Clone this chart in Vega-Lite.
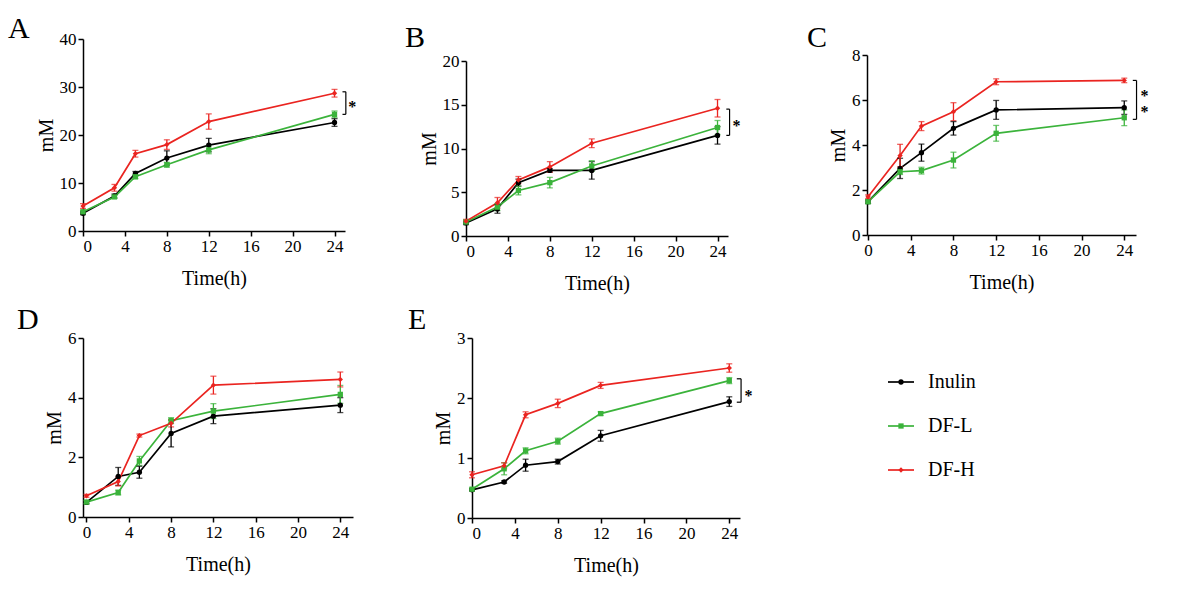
{
  "$schema": "https://vega.github.io/schema/vega-lite/v6.json",
  "background": "white",
  "padding": {"left": 8, "top": 14, "right": 5, "bottom": 5},
  "config": {
    "font": "Liberation Serif",
    "view": {"stroke": null},
    "title": {"font": "Liberation Serif", "fontSize": 30, "fontWeight": "normal", "anchor": "start", "frame": "group", "color": "black", "offset": 0},
    "axis": {
      "domainColor": "black", "domainWidth": 1.5, "tickColor": "black", "tickWidth": 1.5, "tickSize": 5,
      "labelFont": "Liberation Serif", "labelFontSize": 17, "labelColor": "black", "labelPadding": 2,
      "titleFont": "Liberation Serif", "titleFontSize": 20, "titleFontWeight": "normal", "titleColor": "black",
      "grid": false
    },
    "axisX": {"titlePadding": 14},
    "axisY": {"titlePadding": 3},
    "text": {"font": "Liberation Serif"}
  },
  "datasets": {
    "pts": [
      {"p": "A", "g": "Inulin", "t": 0, "v": 3.7, "e": 0.3},
      {"p": "A", "g": "Inulin", "t": 3, "v": 7.3, "e": 0.4},
      {"p": "A", "g": "Inulin", "t": 5, "v": 12.0, "e": 0.4},
      {"p": "A", "g": "Inulin", "t": 8, "v": 15.2, "e": 1.5},
      {"p": "A", "g": "Inulin", "t": 12, "v": 17.9, "e": 1.4},
      {"p": "A", "g": "Inulin", "t": 24, "v": 22.6, "e": 0.8},
      {"p": "A", "g": "DF-L", "t": 0, "v": 4.0, "e": 0.3},
      {"p": "A", "g": "DF-L", "t": 3, "v": 7.1, "e": 0.3},
      {"p": "A", "g": "DF-L", "t": 5, "v": 11.3, "e": 0.4},
      {"p": "A", "g": "DF-L", "t": 8, "v": 13.8, "e": 0.5},
      {"p": "A", "g": "DF-L", "t": 12, "v": 16.9, "e": 0.8},
      {"p": "A", "g": "DF-L", "t": 24, "v": 24.3, "e": 0.7},
      {"p": "A", "g": "DF-H", "t": 0, "v": 5.2, "e": 0.5},
      {"p": "A", "g": "DF-H", "t": 3, "v": 9.0, "e": 0.7},
      {"p": "A", "g": "DF-H", "t": 5, "v": 16.1, "e": 0.7},
      {"p": "A", "g": "DF-H", "t": 8, "v": 18.0, "e": 1.0},
      {"p": "A", "g": "DF-H", "t": 12, "v": 22.8, "e": 1.6},
      {"p": "A", "g": "DF-H", "t": 24, "v": 28.7, "e": 0.8},
      {"p": "A", "lo": 24.3, "hi": 29.0},
      {"p": "A", "sy": 26.6, "s": "*"},

      {"p": "B", "g": "Inulin", "t": 0, "v": 1.5, "e": 0.2},
      {"p": "B", "g": "Inulin", "t": 3, "v": 3.1, "e": 0.5},
      {"p": "B", "g": "Inulin", "t": 5, "v": 6.1, "e": 0.4},
      {"p": "B", "g": "Inulin", "t": 8, "v": 7.5, "e": 0.2},
      {"p": "B", "g": "Inulin", "t": 12, "v": 7.5, "e": 1.0},
      {"p": "B", "g": "Inulin", "t": 24, "v": 11.5, "e": 1.0},
      {"p": "B", "g": "DF-L", "t": 0, "v": 1.6, "e": 0.2},
      {"p": "B", "g": "DF-L", "t": 3, "v": 3.3, "e": 0.4},
      {"p": "B", "g": "DF-L", "t": 5, "v": 5.2, "e": 0.5},
      {"p": "B", "g": "DF-L", "t": 8, "v": 6.1, "e": 0.6},
      {"p": "B", "g": "DF-L", "t": 12, "v": 8.0, "e": 0.6},
      {"p": "B", "g": "DF-L", "t": 24, "v": 12.4, "e": 0.8},
      {"p": "B", "g": "DF-H", "t": 0, "v": 1.7, "e": 0.2},
      {"p": "B", "g": "DF-H", "t": 3, "v": 3.8, "e": 0.6},
      {"p": "B", "g": "DF-H", "t": 5, "v": 6.4, "e": 0.4},
      {"p": "B", "g": "DF-H", "t": 8, "v": 7.9, "e": 0.6},
      {"p": "B", "g": "DF-H", "t": 12, "v": 10.6, "e": 0.5},
      {"p": "B", "g": "DF-H", "t": 24, "v": 14.6, "e": 1.0},
      {"p": "B", "lo": 11.5, "hi": 14.5},
      {"p": "B", "sy": 13.0, "s": "*"},

      {"p": "C", "g": "Inulin", "t": 0, "v": 1.48, "e": 0.08},
      {"p": "C", "g": "Inulin", "t": 3, "v": 2.96, "e": 0.45},
      {"p": "C", "g": "Inulin", "t": 5, "v": 3.66, "e": 0.38},
      {"p": "C", "g": "Inulin", "t": 8, "v": 4.74, "e": 0.3},
      {"p": "C", "g": "Inulin", "t": 12, "v": 5.56, "e": 0.42},
      {"p": "C", "g": "Inulin", "t": 24, "v": 5.66, "e": 0.3},
      {"p": "C", "g": "DF-L", "t": 0, "v": 1.48, "e": 0.08},
      {"p": "C", "g": "DF-L", "t": 3, "v": 2.81, "e": 0.12},
      {"p": "C", "g": "DF-L", "t": 5, "v": 2.86, "e": 0.15},
      {"p": "C", "g": "DF-L", "t": 8, "v": 3.33, "e": 0.35},
      {"p": "C", "g": "DF-L", "t": 12, "v": 4.52, "e": 0.35},
      {"p": "C", "g": "DF-L", "t": 24, "v": 5.21, "e": 0.35},
      {"p": "C", "g": "DF-H", "t": 0, "v": 1.7, "e": 0.08},
      {"p": "C", "g": "DF-H", "t": 3, "v": 3.53, "e": 0.5},
      {"p": "C", "g": "DF-H", "t": 5, "v": 4.84, "e": 0.2},
      {"p": "C", "g": "DF-H", "t": 8, "v": 5.48, "e": 0.4},
      {"p": "C", "g": "DF-H", "t": 12, "v": 6.81, "e": 0.13},
      {"p": "C", "g": "DF-H", "t": 24, "v": 6.87, "e": 0.1},
      {"p": "C", "lo": 5.14, "hi": 6.87},
      {"p": "C", "sy": 6.36, "s": "*"},
      {"p": "C", "sy": 5.64, "s": "*"},

      {"p": "D", "g": "Inulin", "t": 0, "v": 0.49, "e": 0.05},
      {"p": "D", "g": "Inulin", "t": 3, "v": 1.36, "e": 0.3},
      {"p": "D", "g": "Inulin", "t": 5, "v": 1.5, "e": 0.2},
      {"p": "D", "g": "Inulin", "t": 8, "v": 2.8, "e": 0.45},
      {"p": "D", "g": "Inulin", "t": 12, "v": 3.38, "e": 0.25},
      {"p": "D", "g": "Inulin", "t": 24, "v": 3.75, "e": 0.25},
      {"p": "D", "g": "DF-L", "t": 0, "v": 0.5, "e": 0.05},
      {"p": "D", "g": "DF-L", "t": 3, "v": 0.82, "e": 0.08},
      {"p": "D", "g": "DF-L", "t": 5, "v": 1.88, "e": 0.15},
      {"p": "D", "g": "DF-L", "t": 8, "v": 3.23, "e": 0.1},
      {"p": "D", "g": "DF-L", "t": 12, "v": 3.55, "e": 0.25},
      {"p": "D", "g": "DF-L", "t": 24, "v": 4.11, "e": 0.3},
      {"p": "D", "g": "DF-H", "t": 0, "v": 0.71, "e": 0.05},
      {"p": "D", "g": "DF-H", "t": 3, "v": 1.19, "e": 0.15},
      {"p": "D", "g": "DF-H", "t": 5, "v": 2.73, "e": 0.05},
      {"p": "D", "g": "DF-H", "t": 8, "v": 3.14, "e": 0.12},
      {"p": "D", "g": "DF-H", "t": 12, "v": 4.42, "e": 0.3},
      {"p": "D", "g": "DF-H", "t": 24, "v": 4.61, "e": 0.25},

      {"p": "E", "g": "Inulin", "t": 0, "v": 0.47, "e": 0.02},
      {"p": "E", "g": "Inulin", "t": 3, "v": 0.6, "e": 0.02},
      {"p": "E", "g": "Inulin", "t": 5, "v": 0.88, "e": 0.1},
      {"p": "E", "g": "Inulin", "t": 8, "v": 0.94, "e": 0.04},
      {"p": "E", "g": "Inulin", "t": 12, "v": 1.37, "e": 0.09},
      {"p": "E", "g": "Inulin", "t": 24, "v": 1.94, "e": 0.08},
      {"p": "E", "g": "DF-L", "t": 0, "v": 0.48, "e": 0.02},
      {"p": "E", "g": "DF-L", "t": 3, "v": 0.82, "e": 0.1},
      {"p": "E", "g": "DF-L", "t": 5, "v": 1.12, "e": 0.05},
      {"p": "E", "g": "DF-L", "t": 8, "v": 1.28, "e": 0.05},
      {"p": "E", "g": "DF-L", "t": 12, "v": 1.74, "e": 0.03},
      {"p": "E", "g": "DF-L", "t": 24, "v": 2.29, "e": 0.05},
      {"p": "E", "g": "DF-H", "t": 0, "v": 0.72, "e": 0.05},
      {"p": "E", "g": "DF-H", "t": 3, "v": 0.87, "e": 0.05},
      {"p": "E", "g": "DF-H", "t": 5, "v": 1.72, "e": 0.05},
      {"p": "E", "g": "DF-H", "t": 8, "v": 1.91, "e": 0.07},
      {"p": "E", "g": "DF-H", "t": 12, "v": 2.21, "e": 0.05},
      {"p": "E", "g": "DF-H", "t": 24, "v": 2.5, "e": 0.07},
      {"p": "E", "lo": 1.93, "hi": 2.32},
      {"p": "E", "sy": 2.1, "s": "*"}
    ],
    "leg": [
      {"g": "Inulin"},
      {"g": "DF-L"},
      {"g": "DF-H"}
    ]
  },
  "vconcat": [
    {
      "hconcat": [
        {
          "title": {"text": "A", "dx": -75, "dy": 18},
          "width": 262,
          "height": 192,
          "data": {"name": "pts"},
          "transform": [{"filter": "datum.p === 'A'"}],
          "layer": [
            {"transform": [{"filter": "datum.v != null"}], "mark": {"type": "line", "strokeWidth": 1.7},
             "encoding": {
               "x": {"field": "t", "type": "quantitative", "title": "Time(h)", "scale": {"domain": [0, 25], "nice": false}, "axis": {"values": [0, 4, 8, 12, 16, 20, 24], "format": "d"}},
               "y": {"field": "v", "type": "quantitative", "title": "mM", "scale": {"domain": [0, 40], "nice": false}, "axis": {"values": [0, 10, 20, 30, 40], "format": "d"}},
               "color": {"field": "g", "type": "nominal", "legend": null, "scale": {"domain": ["Inulin", "DF-L", "DF-H"], "range": ["#000000", "#3bb33b", "#ea2420"]}}}},
            {"transform": [{"filter": "datum.v != null"}], "mark": {"type": "errorbar", "ticks": {"size": 6, "thickness": 1.3}, "rule": {"strokeWidth": 1.3}},
             "encoding": {"x": {"field": "t", "type": "quantitative", "title": "Time(h)"}, "y": {"field": "v", "type": "quantitative", "title": "mM"}, "yError": {"field": "e"},
               "color": {"field": "g", "type": "nominal", "legend": null, "scale": {"domain": ["Inulin", "DF-L", "DF-H"], "range": ["#000000", "#3bb33b", "#ea2420"]}}}},
            {"transform": [{"filter": "datum.v != null"}], "mark": {"type": "point", "filled": true, "size": 28, "opacity": 1},
             "encoding": {"x": {"field": "t", "type": "quantitative", "title": "Time(h)"}, "y": {"field": "v", "type": "quantitative", "title": "mM"},
               "color": {"field": "g", "type": "nominal", "legend": null, "scale": {"domain": ["Inulin", "DF-L", "DF-H"], "range": ["#000000", "#3bb33b", "#ea2420"]}},
               "shape": {"field": "g", "type": "nominal", "legend": null, "scale": {"domain": ["Inulin", "DF-L", "DF-H"], "range": ["circle", "square", "diamond"]}}}},
            {"transform": [{"filter": "datum.lo != null"}], "mark": {"type": "rule", "color": "black", "strokeWidth": 1.2, "clip": false},
             "encoding": {"x": {"datum": 25.08}, "y": {"field": "lo", "type": "quantitative", "title": "mM"}, "y2": {"field": "hi"}}},
            {"transform": [{"filter": "datum.lo != null"}], "mark": {"type": "rule", "color": "black", "strokeWidth": 1.2, "clip": false},
             "encoding": {"x": {"datum": 24.76}, "x2": {"datum": 25.08}, "y": {"field": "lo", "type": "quantitative", "title": "mM"}}},
            {"transform": [{"filter": "datum.lo != null"}], "mark": {"type": "rule", "color": "black", "strokeWidth": 1.2, "clip": false},
             "encoding": {"x": {"datum": 24.76}, "x2": {"datum": 25.08}, "y": {"field": "hi", "type": "quantitative", "title": "mM"}}},
            {"transform": [{"filter": "datum.s != null"}], "mark": {"type": "text", "fontSize": 16, "fontWeight": "bold", "color": "black", "baseline": "middle", "dy": 4, "clip": false},
             "encoding": {"x": {"datum": 25.7}, "y": {"field": "sy", "type": "quantitative", "title": "mM"}, "text": {"field": "s"}}}
          ]
        },
        {
          "hconcat": [
            {
              "title": {"text": "B", "dx": -61, "dy": 18},
              "width": 262,
              "height": 197,
              "data": {"name": "pts"},
              "transform": [{"filter": "datum.p === 'B'"}],
              "layer": [
                {"transform": [{"filter": "datum.v != null"}], "mark": {"type": "line", "strokeWidth": 1.7},
                 "encoding": {
                   "x": {"field": "t", "type": "quantitative", "title": "Time(h)", "scale": {"domain": [0, 25], "nice": false}, "axis": {"values": [0, 4, 8, 12, 16, 20, 24], "format": "d"}},
                   "y": {"field": "v", "type": "quantitative", "title": "mM", "scale": {"domain": [0, 20], "nice": false, "rangeMax": 22}, "axis": {"values": [0, 5, 10, 15, 20], "format": "d"}},
                   "color": {"field": "g", "type": "nominal", "legend": null, "scale": {"domain": ["Inulin", "DF-L", "DF-H"], "range": ["#000000", "#3bb33b", "#ea2420"]}}}},
                {"transform": [{"filter": "datum.v != null"}], "mark": {"type": "errorbar", "ticks": {"size": 6, "thickness": 1.3}, "rule": {"strokeWidth": 1.3}},
                 "encoding": {"x": {"field": "t", "type": "quantitative", "title": "Time(h)"}, "y": {"field": "v", "type": "quantitative", "title": "mM"}, "yError": {"field": "e"},
                   "color": {"field": "g", "type": "nominal", "legend": null, "scale": {"domain": ["Inulin", "DF-L", "DF-H"], "range": ["#000000", "#3bb33b", "#ea2420"]}}}},
                {"transform": [{"filter": "datum.v != null"}], "mark": {"type": "point", "filled": true, "size": 28, "opacity": 1},
                 "encoding": {"x": {"field": "t", "type": "quantitative", "title": "Time(h)"}, "y": {"field": "v", "type": "quantitative", "title": "mM"},
                   "color": {"field": "g", "type": "nominal", "legend": null, "scale": {"domain": ["Inulin", "DF-L", "DF-H"], "range": ["#000000", "#3bb33b", "#ea2420"]}},
                   "shape": {"field": "g", "type": "nominal", "legend": null, "scale": {"domain": ["Inulin", "DF-L", "DF-H"], "range": ["circle", "square", "diamond"]}}}},
                {"transform": [{"filter": "datum.lo != null"}], "mark": {"type": "rule", "color": "black", "strokeWidth": 1.2, "clip": false},
                 "encoding": {"x": {"datum": 25.15}, "y": {"field": "lo", "type": "quantitative", "title": "mM"}, "y2": {"field": "hi"}}},
                {"transform": [{"filter": "datum.lo != null"}], "mark": {"type": "rule", "color": "black", "strokeWidth": 1.2, "clip": false},
                 "encoding": {"x": {"datum": 24.84}, "x2": {"datum": 25.15}, "y": {"field": "lo", "type": "quantitative", "title": "mM"}}},
                {"transform": [{"filter": "datum.lo != null"}], "mark": {"type": "rule", "color": "black", "strokeWidth": 1.2, "clip": false},
                 "encoding": {"x": {"datum": 24.84}, "x2": {"datum": 25.15}, "y": {"field": "hi", "type": "quantitative", "title": "mM"}}},
                {"transform": [{"filter": "datum.s != null"}], "mark": {"type": "text", "fontSize": 16, "fontWeight": "bold", "color": "black", "baseline": "middle", "dy": 4, "clip": false},
                 "encoding": {"x": {"datum": 25.8}, "y": {"field": "sy", "type": "quantitative", "title": "mM"}, "text": {"field": "s"}}}
              ]
            },
            {
              "title": {"text": "C", "dx": -60, "dy": 18},
              "width": 269,
              "height": 196,
              "data": {"name": "pts"},
              "transform": [{"filter": "datum.p === 'C'"}],
              "layer": [
                {"transform": [{"filter": "datum.v != null"}], "mark": {"type": "line", "strokeWidth": 1.7},
                 "encoding": {
                   "x": {"field": "t", "type": "quantitative", "title": "Time(h)", "scale": {"domain": [-0.1, 25.1], "nice": false}, "axis": {"values": [0, 4, 8, 12, 16, 20, 24], "format": "d"}},
                   "y": {"field": "v", "type": "quantitative", "title": "mM", "scale": {"domain": [0, 8], "nice": false, "rangeMax": 16}, "axis": {"values": [0, 2, 4, 6, 8], "format": "d"}},
                   "color": {"field": "g", "type": "nominal", "legend": null, "scale": {"domain": ["Inulin", "DF-L", "DF-H"], "range": ["#000000", "#3bb33b", "#ea2420"]}}}},
                {"transform": [{"filter": "datum.v != null"}], "mark": {"type": "errorbar", "ticks": {"size": 6, "thickness": 1.3}, "rule": {"strokeWidth": 1.3}},
                 "encoding": {"x": {"field": "t", "type": "quantitative", "title": "Time(h)"}, "y": {"field": "v", "type": "quantitative", "title": "mM"}, "yError": {"field": "e"},
                   "color": {"field": "g", "type": "nominal", "legend": null, "scale": {"domain": ["Inulin", "DF-L", "DF-H"], "range": ["#000000", "#3bb33b", "#ea2420"]}}}},
                {"transform": [{"filter": "datum.v != null"}], "mark": {"type": "point", "filled": true, "size": 28, "opacity": 1},
                 "encoding": {"x": {"field": "t", "type": "quantitative", "title": "Time(h)"}, "y": {"field": "v", "type": "quantitative", "title": "mM"},
                   "color": {"field": "g", "type": "nominal", "legend": null, "scale": {"domain": ["Inulin", "DF-L", "DF-H"], "range": ["#000000", "#3bb33b", "#ea2420"]}},
                   "shape": {"field": "g", "type": "nominal", "legend": null, "scale": {"domain": ["Inulin", "DF-L", "DF-H"], "range": ["circle", "square", "diamond"]}}}},
                {"transform": [{"filter": "datum.lo != null"}], "mark": {"type": "rule", "color": "black", "strokeWidth": 1.2, "clip": false},
                 "encoding": {"x": {"datum": 25.15}, "y": {"field": "lo", "type": "quantitative", "title": "mM"}, "y2": {"field": "hi"}}},
                {"transform": [{"filter": "datum.lo != null"}], "mark": {"type": "rule", "color": "black", "strokeWidth": 1.2, "clip": false},
                 "encoding": {"x": {"datum": 24.8}, "x2": {"datum": 25.15}, "y": {"field": "lo", "type": "quantitative", "title": "mM"}}},
                {"transform": [{"filter": "datum.lo != null"}], "mark": {"type": "rule", "color": "black", "strokeWidth": 1.2, "clip": false},
                 "encoding": {"x": {"datum": 24.8}, "x2": {"datum": 25.15}, "y": {"field": "hi", "type": "quantitative", "title": "mM"}}},
                {"transform": [{"filter": "datum.s != null"}], "mark": {"type": "text", "fontSize": 16, "fontWeight": "bold", "color": "black", "baseline": "middle", "dy": 4, "clip": false},
                 "encoding": {"x": {"datum": 25.9}, "y": {"field": "sy", "type": "quantitative", "title": "mM"}, "text": {"field": "s"}}}
              ]
            }
          ],
          "spacing": 66
        }
      ],
      "spacing": 48
    },
    {
      "hconcat": [
        {
          "title": {"text": "D", "dx": -66, "dy": 10},
          "width": 270,
          "height": 179,
          "data": {"name": "pts"},
          "transform": [{"filter": "datum.p === 'D'"}],
          "layer": [
            {"transform": [{"filter": "datum.v != null"}], "mark": {"type": "line", "strokeWidth": 1.7},
             "encoding": {
               "x": {"field": "t", "type": "quantitative", "title": "Time(h)", "scale": {"domain": [-0.33, 25.2], "nice": false}, "axis": {"values": [0, 4, 8, 12, 16, 20, 24], "format": "d"}},
               "y": {"field": "v", "type": "quantitative", "title": "mM", "scale": {"domain": [0, 6], "nice": false}, "axis": {"values": [0, 2, 4, 6], "format": "d"}},
               "color": {"field": "g", "type": "nominal", "legend": null, "scale": {"domain": ["Inulin", "DF-L", "DF-H"], "range": ["#000000", "#3bb33b", "#ea2420"]}}}},
            {"transform": [{"filter": "datum.v != null"}], "mark": {"type": "errorbar", "ticks": {"size": 6, "thickness": 1.3}, "rule": {"strokeWidth": 1.3}},
             "encoding": {"x": {"field": "t", "type": "quantitative", "title": "Time(h)"}, "y": {"field": "v", "type": "quantitative", "title": "mM"}, "yError": {"field": "e"},
               "color": {"field": "g", "type": "nominal", "legend": null, "scale": {"domain": ["Inulin", "DF-L", "DF-H"], "range": ["#000000", "#3bb33b", "#ea2420"]}}}},
            {"transform": [{"filter": "datum.v != null"}], "mark": {"type": "point", "filled": true, "size": 28, "opacity": 1},
             "encoding": {"x": {"field": "t", "type": "quantitative", "title": "Time(h)"}, "y": {"field": "v", "type": "quantitative", "title": "mM"},
               "color": {"field": "g", "type": "nominal", "legend": null, "scale": {"domain": ["Inulin", "DF-L", "DF-H"], "range": ["#000000", "#3bb33b", "#ea2420"]}},
               "shape": {"field": "g", "type": "nominal", "legend": null, "scale": {"domain": ["Inulin", "DF-L", "DF-H"], "range": ["circle", "square", "diamond"]}}}}
          ]
        },
        {
          "hconcat": [
            {
              "title": {"text": "E", "dx": -64, "dy": 10},
              "width": 268,
              "height": 180,
              "data": {"name": "pts"},
              "transform": [{"filter": "datum.p === 'E'"}],
              "layer": [
                {"transform": [{"filter": "datum.v != null"}], "mark": {"type": "line", "strokeWidth": 1.7},
                 "encoding": {
                   "x": {"field": "t", "type": "quantitative", "title": "Time(h)", "scale": {"domain": [0, 25], "nice": false}, "axis": {"values": [0, 4, 8, 12, 16, 20, 24], "format": "d"}},
                   "y": {"field": "v", "type": "quantitative", "title": "mM", "scale": {"domain": [0, 3], "nice": false}, "axis": {"values": [0, 1, 2, 3], "format": "d"}},
                   "color": {"field": "g", "type": "nominal", "legend": null, "scale": {"domain": ["Inulin", "DF-L", "DF-H"], "range": ["#000000", "#3bb33b", "#ea2420"]}}}},
                {"transform": [{"filter": "datum.v != null"}], "mark": {"type": "errorbar", "ticks": {"size": 6, "thickness": 1.3}, "rule": {"strokeWidth": 1.3}},
                 "encoding": {"x": {"field": "t", "type": "quantitative", "title": "Time(h)"}, "y": {"field": "v", "type": "quantitative", "title": "mM"}, "yError": {"field": "e"},
                   "color": {"field": "g", "type": "nominal", "legend": null, "scale": {"domain": ["Inulin", "DF-L", "DF-H"], "range": ["#000000", "#3bb33b", "#ea2420"]}}}},
                {"transform": [{"filter": "datum.v != null"}], "mark": {"type": "point", "filled": true, "size": 28, "opacity": 1},
                 "encoding": {"x": {"field": "t", "type": "quantitative", "title": "Time(h)"}, "y": {"field": "v", "type": "quantitative", "title": "mM"},
                   "color": {"field": "g", "type": "nominal", "legend": null, "scale": {"domain": ["Inulin", "DF-L", "DF-H"], "range": ["#000000", "#3bb33b", "#ea2420"]}},
                   "shape": {"field": "g", "type": "nominal", "legend": null, "scale": {"domain": ["Inulin", "DF-L", "DF-H"], "range": ["circle", "square", "diamond"]}}}},
                {"transform": [{"filter": "datum.lo != null"}], "mark": {"type": "rule", "color": "black", "strokeWidth": 1.2, "clip": false},
                 "encoding": {"x": {"datum": 25.1}, "y": {"field": "lo", "type": "quantitative", "title": "mM"}, "y2": {"field": "hi"}}},
                {"transform": [{"filter": "datum.lo != null"}], "mark": {"type": "rule", "color": "black", "strokeWidth": 1.2, "clip": false},
                 "encoding": {"x": {"datum": 24.7}, "x2": {"datum": 25.1}, "y": {"field": "lo", "type": "quantitative", "title": "mM"}}},
                {"transform": [{"filter": "datum.lo != null"}], "mark": {"type": "rule", "color": "black", "strokeWidth": 1.2, "clip": false},
                 "encoding": {"x": {"datum": 24.7}, "x2": {"datum": 25.1}, "y": {"field": "hi", "type": "quantitative", "title": "mM"}}},
                {"transform": [{"filter": "datum.s != null"}], "mark": {"type": "text", "fontSize": 16, "fontWeight": "bold", "color": "black", "baseline": "middle", "dy": 4, "clip": false},
                 "encoding": {"x": {"datum": 25.8}, "y": {"field": "sy", "type": "quantitative", "title": "mM"}, "text": {"field": "s"}}}
              ]
            },
            {
              "width": 110,
              "height": 176,
              "data": {"name": "leg"},
              "layer": [
                {"mark": {"type": "rule", "strokeWidth": 1.7},
                 "encoding": {"x": {"datum": 0, "type": "quantitative", "scale": {"domain": [0, 11]}, "axis": null}, "x2": {"datum": 2.6},
                              "y": {"field": "g", "type": "nominal", "sort": ["Inulin", "DF-L", "DF-H"], "axis": null, "scale": {"type": "point", "padding": 1.05}},
                              "color": {"field": "g", "type": "nominal", "legend": null, "scale": {"domain": ["Inulin", "DF-L", "DF-H"], "range": ["#000000", "#3bb33b", "#ea2420"]}}}},
                {"mark": {"type": "point", "filled": true, "size": 28, "opacity": 1},
                 "encoding": {"x": {"datum": 1.3, "type": "quantitative"},
                              "y": {"field": "g", "type": "nominal", "sort": ["Inulin", "DF-L", "DF-H"]},
                              "color": {"field": "g", "type": "nominal", "legend": null, "scale": {"domain": ["Inulin", "DF-L", "DF-H"], "range": ["#000000", "#3bb33b", "#ea2420"]}},
                              "shape": {"field": "g", "type": "nominal", "legend": null, "scale": {"domain": ["Inulin", "DF-L", "DF-H"], "range": ["circle", "square", "diamond"]}}}},
                {"mark": {"type": "text", "align": "left", "baseline": "middle", "fontSize": 20, "color": "black"},
                 "encoding": {"x": {"datum": 4.0, "type": "quantitative"},
                              "y": {"field": "g", "type": "nominal", "sort": ["Inulin", "DF-L", "DF-H"]},
                              "text": {"field": "g"}}}
              ]
            }
          ],
          "spacing": 134
        }
      ],
      "spacing": 55
    }
  ],
  "spacing": 12
}
